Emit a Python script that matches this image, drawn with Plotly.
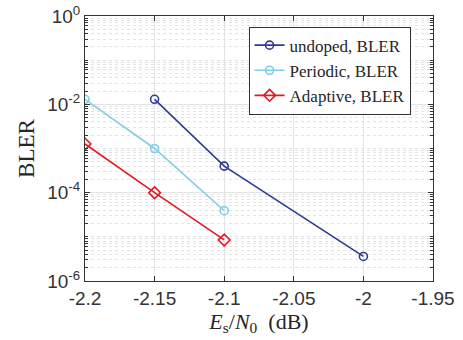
import plotly.graph_objects as go

undoped_x = [-2.15, -2.1, -2.0]
undoped_bler = [1.3e-2, 4.0e-4, 3.6e-6]
periodic_x = [-2.2, -2.15, -2.1]
periodic_bler = [1.3e-2, 1.0e-3, 3.9e-5]
adaptive_x = [-2.2, -2.15, -2.1]
adaptive_bler = [1.27e-3, 1.0e-4, 8.5e-6]

x_ticks = [-2.2, -2.15, -2.1, -2.05, -2.0, -1.95]
x_ticktext = ["-2.2", "-2.15", "-2.1", "-2.05", "-2", "-1.95"]
y_major = [1e0, 1e-2, 1e-4, 1e-6]
y_ticktext = ["10<sup>0</sup>", "10<sup>-2</sup>", "10<sup>-4</sup>", "10<sup>-6</sup>"]
y_minor = [m * 10.0 ** e for e in range(-6, 0) for m in range(1, 10)
           if not (m == 1 and e % 2 == 0)]

c_undoped = "#2f3a93"
c_periodic = "#7fcde6"
c_adaptive = "#e8161f"

fig = go.Figure()
fig.add_trace(go.Scatter(x=undoped_x, y=undoped_bler, mode="lines+markers",
                         name="undoped, BLER",
                         line=dict(color=c_undoped, width=1.6),
                         marker=dict(symbol="circle-open", size=8, color=c_undoped, line=dict(width=1.6))))
fig.add_trace(go.Scatter(x=periodic_x, y=periodic_bler, mode="lines+markers",
                         name="Periodic, BLER",
                         line=dict(color=c_periodic, width=1.6),
                         marker=dict(symbol="circle-open", size=8, color=c_periodic, line=dict(width=1.6))))
fig.add_trace(go.Scatter(x=adaptive_x, y=adaptive_bler, mode="lines+markers",
                         name="Adaptive, BLER",
                         line=dict(color=c_adaptive, width=1.6),
                         marker=dict(symbol="diamond-open", size=9, color=c_adaptive, line=dict(width=1.6))))

tick_font = dict(family="Liberation Sans, Arial", size=19, color="#333333")
serif = "Liberation Serif, Times New Roman, serif"

fig.update_layout(
    width=463, height=340,
    margin=dict(l=85, r=30, t=16, b=59),
    paper_bgcolor="white", plot_bgcolor="white",
    showlegend=True,
    legend=dict(x=0.47, y=0.96, xanchor="left", yanchor="top",
                bgcolor="white", bordercolor="#333333", borderwidth=1,
                font=dict(family=serif, size=17, color="#262626"),
                tracegroupgap=0, itemwidth=30),
    xaxis=dict(range=[-2.2, -1.95], tickmode="array", tickvals=x_ticks, ticktext=x_ticktext,
               showline=True, linecolor="#333333", linewidth=1, mirror="ticks",
               ticks="inside", ticklen=5, tickcolor="#333333",
               showgrid=True, gridcolor="#e3e3e3", gridwidth=1, zeroline=False,
               tickfont=tick_font, automargin=False, ticklabeloverflow="allow",
               title=dict(text="<i>E</i><sub>s</sub>/<i>N</i><sub>0</sub>  (dB)", standoff=4,
                          font=dict(family=serif, size=22, color="#262626"))),
    yaxis=dict(type="log", range=[-6, 0], tickmode="array", tickvals=y_major, ticktext=y_ticktext,
               showline=True, linecolor="#333333", linewidth=1, mirror="ticks",
               ticks="inside", ticklen=5, tickcolor="#333333",
               showgrid=True, gridcolor="#e3e3e3", gridwidth=1, zeroline=False,
               tickfont=tick_font, automargin=False, ticklabeloverflow="allow",
               minor=dict(tickmode="array", tickvals=y_minor, ticks="inside", ticklen=3,
                          tickcolor="#333333", showgrid=True, gridcolor="#e3e3e3",
                          griddash="dot", gridwidth=1),
               title=dict(text="BLER", standoff=6,
                          font=dict(family=serif, size=23, color="#262626"))),
)

fig.write_html("out.html", config={"displayModeBar": False},
               post_script="document.body.style.margin='0';")
